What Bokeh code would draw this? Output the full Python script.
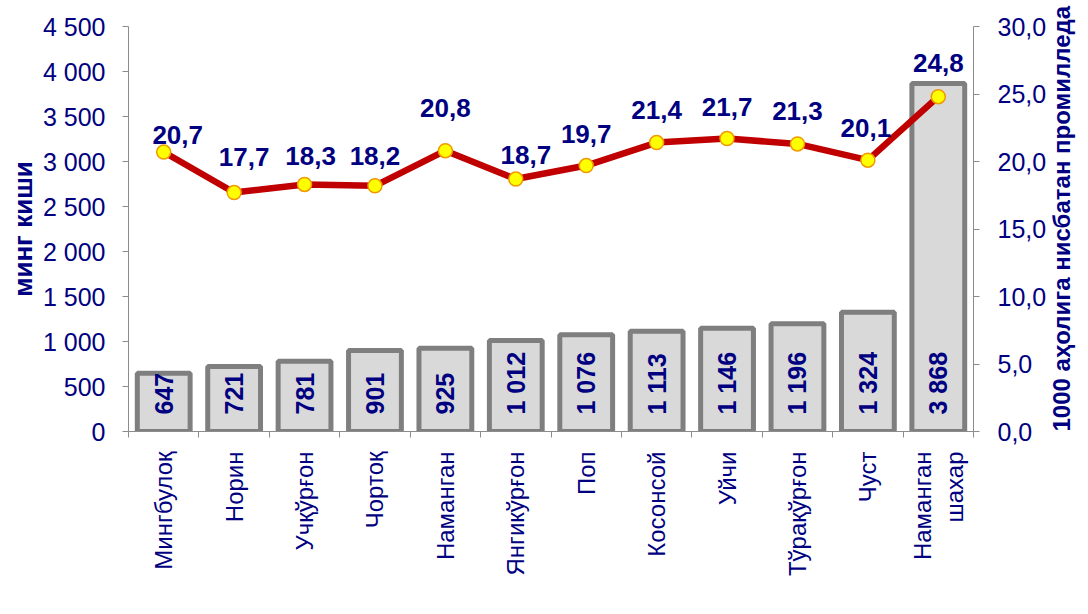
import math
from bokeh.plotting import figure
from bokeh.models import (Range1d, LinearAxis, FixedTicker, Legend, LegendItem,
                          ColumnDataSource)
from bokeh.core.properties import value
from bokeh.embed import file_html
from bokeh.resources import INLINE

# ---- data ----
districts = ["Мингбулоқ", "Норин", "Учқўрғон", "Чортоқ", "Наманган", "Янгикўрғон",
             "Поп", "Косонсой", "Уйчи", "Тўрақўрғон", "Чуст", "Наманган\nшахар"]
births = [647, 721, 781, 901, 925, 1012, 1076, 1113, 1146, 1196, 1324, 3868]
rate = [20.7, 17.7, 18.3, 18.2, 20.8, 18.7, 19.7, 21.4, 21.7, 21.3, 20.1, 24.8]
left_ticks = [0, 500, 1000, 1500, 2000, 2500, 3000, 3500, 4000, 4500]
right_ticks = [0, 5, 10, 15, 20, 25, 30]
left_title = "минг киши"
right_title = "1000 аҳолига нисбатан промилледа"
legend_label = "Туғилганлар сони"

# label placement (pixels), as in the original layout
lab_dx = [14, 10, 6, 0, 0, 10, 0, 0, 0, 0, -2, 0]
lab_gap = [8, 27, 19, 21, 34, 15, 23, 24, 23, 24, 23, 25]

FONT = "Liberation Sans"
NAVY = "#000080"
AX = "#8C8C8C"

def thousands(v):
    return f"{v:,}".replace(",", " ")

def comma(v):
    return f"{v:.1f}".replace(".", ",")

n = len(districts)
xs = [i + 0.5 for i in range(n)]
src = ColumnDataSource(dict(
    x=xs, births=births, rate=rate,
    blab=[thousands(b) for b in births],
    rlab=[comma(r) for r in rate],
    rx_off=lab_dx,
    ry_off=[-(g + 9) for g in lab_gap],
))

p = figure(frame_width=845, frame_height=405, x_range=Range1d(0, n),
           y_range=Range1d(0, 4500),
           output_backend="svg", toolbar_location=None,
           min_border_left=128, min_border_right=115, min_border_top=26,
           min_border_bottom=0)
p.extra_y_ranges = {"rate": Range1d(0, 30)}
p.grid.visible = False
p.outline_line_color = None
p.background_fill_color = "white"
p.border_fill_color = "white"

bars = p.vbar(x="x", top="births", width=0.75, source=src, fill_color="#D9D9D9",
              line_color="#7F7F7F", line_width=5)

p.text(x="x", y=0, text="blab", source=src, angle=math.pi / 2, text_align="left",
       text_baseline="middle", y_offset=-17, text_font=value(FONT),
       text_font_size="25px", text_font_style="bold", text_color=NAVY)

p.line(x="x", y="rate", source=src, y_range_name="rate", line_color="#C00000",
       line_width=6.5)
p.scatter(x="x", y="rate", source=src, y_range_name="rate", size=14,
          fill_color="#FFFF00", line_color="#EE9A00", line_width=1.5)
p.text(x="x", y="rate", text="rlab", source=src, y_range_name="rate",
       x_offset="rx_off", y_offset="ry_off", text_align="center",
       text_baseline="middle", text_font=value(FONT), text_font_size="26px",
       text_font_style="bold", text_color=NAVY)

# x axis
xa = p.xaxis[0]
xa.ticker = FixedTicker(ticks=xs, minor_ticks=list(range(n + 1)))
xa.major_label_overrides = {x: d for x, d in zip(xs, districts)}
xa.major_label_orientation = math.pi / 2
xa.major_tick_out = 0
xa.major_tick_in = 0
xa.minor_tick_out = 6
xa.minor_tick_in = 0
xa.minor_tick_line_color = AX
xa.axis_line_color = AX
xa.major_label_standoff = 14
xa.major_label_text_font = FONT
xa.major_label_text_font_size = "24px"
xa.major_label_text_color = NAVY

# left axis
ya = p.yaxis[0]
ya.ticker = FixedTicker(ticks=left_ticks)
ya.major_label_overrides = {t: thousands(t) for t in left_ticks}
ya.minor_tick_out = 0
ya.minor_tick_in = 0
ya.major_tick_out = 6
ya.major_tick_in = 0
ya.major_tick_line_color = AX
ya.axis_line_color = AX
ya.major_label_standoff = 17
ya.major_label_text_font = FONT
ya.major_label_text_font_size = "25px"
ya.major_label_text_color = NAVY
ya.axis_label = left_title
ya.axis_label_text_font = FONT
ya.axis_label_text_font_size = "26px"
ya.axis_label_text_font_style = "bold"
ya.axis_label_text_color = NAVY
ya.axis_label_standoff = 2

# right axis
ra = LinearAxis(y_range_name="rate", ticker=FixedTicker(ticks=right_ticks))
ra.major_label_overrides = {t: comma(t) for t in right_ticks}
ra.minor_tick_out = 0
ra.minor_tick_in = 0
ra.major_tick_out = 6
ra.major_tick_in = 0
ra.major_tick_line_color = AX
ra.axis_line_color = AX
ra.major_label_standoff = 18
ra.major_label_text_font = FONT
ra.major_label_text_font_size = "25px"
ra.major_label_text_color = NAVY
ra.axis_label = right_title
ra.axis_label_text_font = FONT
ra.axis_label_text_font_size = "24px"
ra.axis_label_text_font_style = "bold"
ra.axis_label_text_color = NAVY
ra.axis_label_standoff = 12
try:
    ra.axis_label_orientation = math.pi / 2   # read bottom to top
    ra.axis_label_align = "start"
except Exception:
    pass
p.add_layout(ra, "right")

legend = Legend(items=[LegendItem(label=legend_label, renderers=[bars])],
                orientation="horizontal", location="top_center",
                label_text_font=FONT, label_text_font_size="25px",
                label_text_color=NAVY, glyph_width=50, glyph_height=14,
                border_line_color=None, background_fill_alpha=0,
                padding=0, margin=0, label_standoff=8, label_height=24)
p.add_layout(legend, "below")

open("out.html", "w").write(file_html(p, INLINE))
